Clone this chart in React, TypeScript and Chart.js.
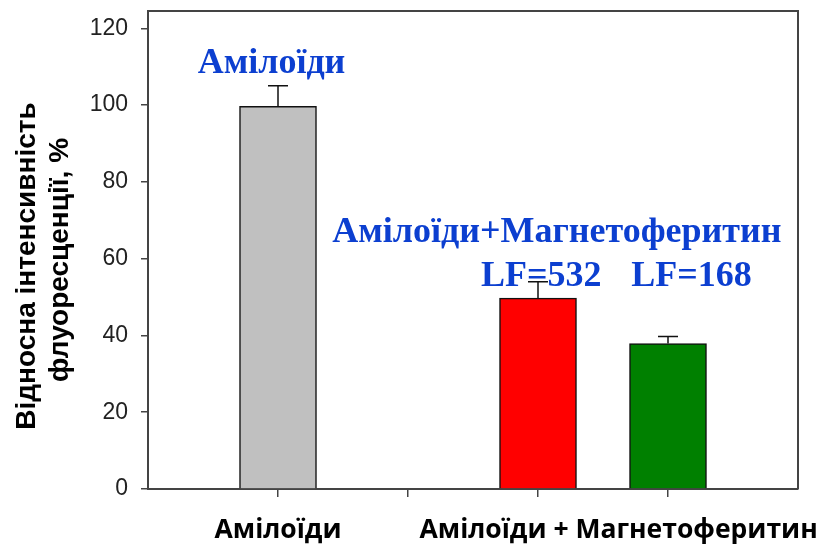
import React, { useEffect, useRef } from "react";
import { Chart, registerables } from "chart.js";

Chart.register(...registerables);

// ---- data ----
const barPositions = [1, 3, 4];
const barValues = [99.7, 49.7, 37.9];
const barErrors = [5.3, 4.3, 1.8];
const barColors = ["#c0c0c0", "#ff0000", "#008000"];
const xTickPositions = [1, 2, 3, 4];
const yTickValues = [0, 20, 40, 60, 80, 100, 120];

const groupLabels = ["Амілоїди", "Амілоїди + Магнетоферитин"];
const groupLabelPositions = [1, 3.62];

const annotTexts = ["Амілоїди", "Амілоїди+Магнетоферитин", "LF=532", "LF=168"];
const annotX = [0.95, 3.145, 3.025, 4.18];
const annotY = [108.3, 64.4, 53.0, 53.0];

const yTitleLines = ["Відносна інтенсивність", "флуоресценції, %"];

const overlayPlugin = {
  id: "overlay",
  afterDatasetsDraw(chart: any) {
    const { ctx, chartArea, scales } = chart;
    const xs = scales.x;
    const ys = scales.y;
    ctx.save();
    // error bars
    ctx.strokeStyle = "#111";
    ctx.lineWidth = 1.5;
    barPositions.forEach((p, i) => {
      const x = xs.getPixelForValue(p);
      const y0 = ys.getPixelForValue(barValues[i]);
      const y1 = ys.getPixelForValue(barValues[i] + barErrors[i]);
      ctx.beginPath();
      ctx.moveTo(x, y0);
      ctx.lineTo(x, y1);
      ctx.moveTo(x - 10, y1);
      ctx.lineTo(x + 10, y1);
      ctx.stroke();
    });
    // frame top/right
    ctx.strokeStyle = "#444";
    ctx.lineWidth = 2;
    ctx.beginPath();
    ctx.moveTo(chartArea.left, chartArea.top);
    ctx.lineTo(chartArea.right, chartArea.top);
    ctx.lineTo(chartArea.right, chartArea.bottom);
    ctx.stroke();
    // annotations
    ctx.fillStyle = "#0c3fd0";
    ctx.font = "bold 36px 'Liberation Serif', 'Times New Roman', serif";
    ctx.textAlign = "center";
    ctx.textBaseline = "alphabetic";
    annotTexts.forEach((t, i) => {
      ctx.fillText(t, xs.getPixelForValue(annotX[i]), ys.getPixelForValue(annotY[i]));
    });
    // group labels
    ctx.fillStyle = "#000";
    ctx.font = "bold 26.5px 'Open Sans', sans-serif";
    groupLabels.forEach((t, i) => {
      ctx.fillText(t, xs.getPixelForValue(groupLabelPositions[i]), 538);
    });
    // y title
    ctx.font = "bold 28px 'Liberation Sans', Arial, sans-serif";
    const lineX = [35, 68];
    const lineY = [266, 260];
    lineX.forEach((lx, i) => {
      ctx.save();
      ctx.translate(lx, lineY[i]);
      ctx.rotate(-Math.PI / 2);
      ctx.fillText(yTitleLines[i], 0, 0);
      ctx.restore();
    });
    ctx.restore();
  },
};

export default function App() {
  const ref = useRef<HTMLCanvasElement>(null);
  useEffect(() => {
    if (!ref.current) return;
    const chart = new Chart(ref.current, {
      type: "bar",
      data: {
        datasets: [
          {
            data: barPositions.map((p, i) => ({ x: p, y: barValues[i] })),
            backgroundColor: barColors,
            borderColor: "#111",
            borderWidth: 1.5,
            barThickness: 77,
          },
        ],
      },
      options: {
        animation: false,
        responsive: false,
        maintainAspectRatio: false,
        layout: { padding: { top: 11, right: 19, left: 0, bottom: 0 } },
        plugins: { legend: { display: false }, tooltip: { enabled: false } },
        scales: {
          x: {
            type: "linear",
            offset: false,
            min: 0,
            max: 5,
            afterBuildTicks: (s: any) => {
              s.ticks = xTickPositions.map((v) => ({ value: v }));
            },
            afterFit: (s: any) => {
              s.height = 545 - 489;
              s.paddingLeft = 0;
              s.paddingRight = 0;
            },
            ticks: { display: true, callback: () => "" },
            grid: { offset: false, drawOnChartArea: false, drawTicks: true, tickLength: 8, color: "#444", lineWidth: 1.5 },
            border: { display: true, color: "#444", width: 2 },
          },
          y: {
            min: 0,
            max: 124.5,
            afterBuildTicks: (s: any) => {
              s.ticks = yTickValues.map((v) => ({ value: v }));
            },
            afterFit: (s: any) => {
              s.width = 148;
              s.paddingTop = 0;
              s.paddingBottom = 0;
            },
            ticks: {
              color: "#222",
              padding: 13,
              font: { family: "'Liberation Sans', Arial, sans-serif", size: 23 },
            },
            grid: { drawOnChartArea: false, drawTicks: true, tickLength: 7, color: "#444", lineWidth: 1.5 },
            border: { display: true, color: "#444", width: 2 },
          },
        },
      },
      plugins: [overlayPlugin],
    } as any);
    return () => chart.destroy();
  }, []);
  return (
    <div style={{ position: "absolute", left: 0, top: 0, width: 817, height: 545, background: "#fff" }}>
      <canvas ref={ref} width={817} height={545} style={{ width: 817, height: 545 }} />
    </div>
  );
}
